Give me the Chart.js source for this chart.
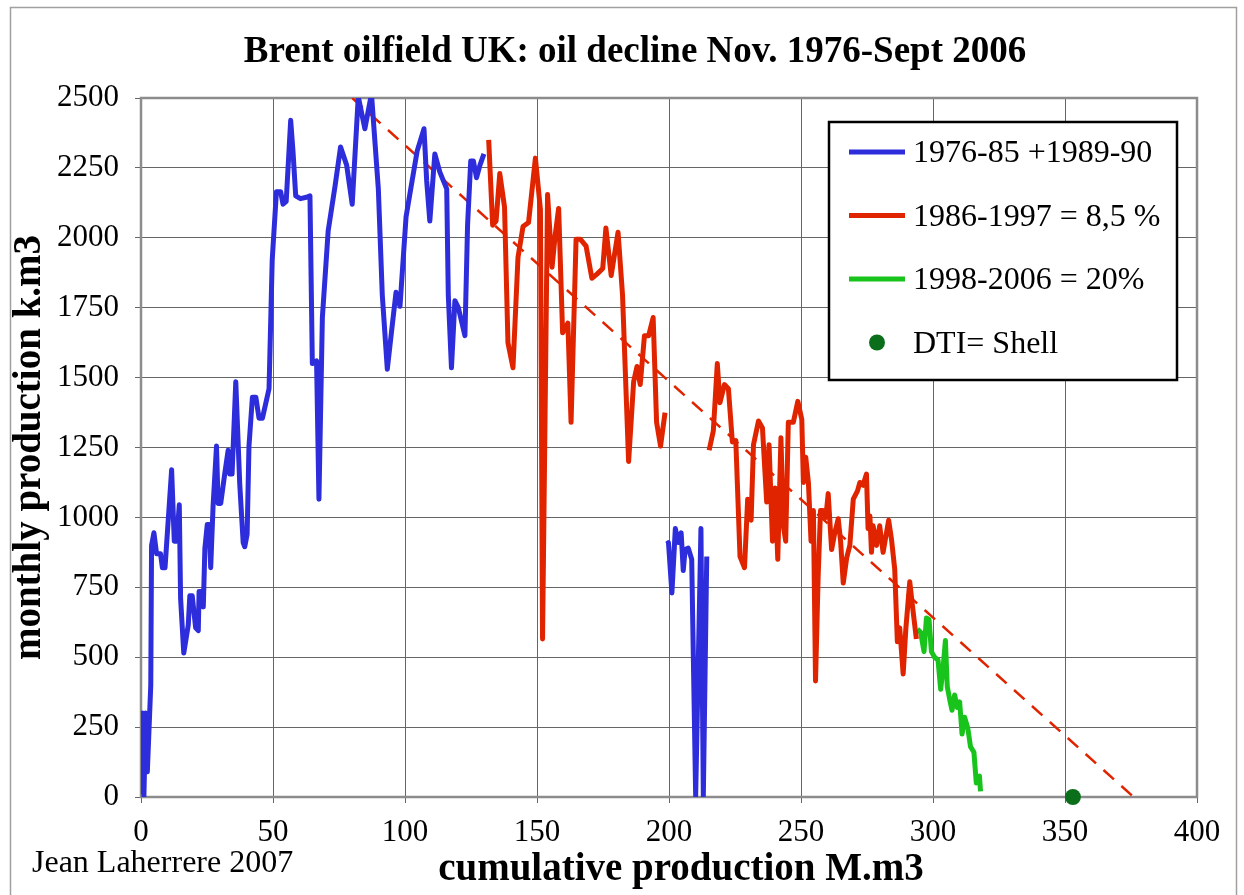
<!DOCTYPE html>
<html lang="en">
<head>
<meta charset="UTF-8" />
<title>Brent oilfield UK: oil decline</title>
<script src="https://cdn.jsdelivr.net/npm/chart.js@4"></script>
<style>
  html, body { margin: 0; padding: 0; background: #fff; }
  #wrap { width: 1244px; height: 895px; position: relative; }
</style>
</head>
<body>
<div id="wrap"><canvas id="brentChart"></canvas></div>
<script>
const serif = "'Liberation Serif', 'Times New Roman', serif";

// cumulative production (M.m3) vs monthly production (k.m3)
// blue: 1976-85 + 1989-90, null breaks the line between the two periods
const blueX = [0, 0.3, 0.6, 1.1, 1.8, 2.4, 3.7, 4.0, 4.9, 5.9, 7.4, 8.1, 9.1, 10.6, 11.6, 12.6, 13.5, 14.5, 15.0, 16.2,
  17.9, 18.5, 19.4, 20.7, 21.7, 22.0, 22.9, 23.6, 24.2, 25.1, 25.8, 26.4, 27.3, 28.6, 29.2, 30.2, 31.7, 33.0, 33.6, 34.5,
  35.9, 37.4, 38.7, 39.3, 40.2, 40.9, 42.2, 43.5, 44.7, 46.0, 48.5, 49.7, 51.3, 52.9, 53.8, 55.0, 56.7, 57.6, 58.6, 60.4,
  62.7, 64.0, 64.9, 66.5, 67.4, 68.7, 70.9, 73.5, 75.6, 77.9, 80.0, 82.3, 84.8, 87.3, 89.9, 91.4, 93.3, 94.9, 96.6, 98.1,
  100.4, 101.9, 104.6, 107.2, 108.2, 109.4, 111.3, 113.2, 115.8, 116.4, 117.6, 118.9, 120.2, 122.7, 123.7, 124.9, 125.9, 127.1, 128.4, 129.9,
  165,
  199.2, 199.8, 201.1, 202.4, 203.5, 204.6, 205.4, 206.1, 207.3, 208.6, 210.1, 212.1, 213.0, 214.3];
const blueY = [20, 200, 300, 0, 300, 90, 400, 900, 945, 870, 870, 820, 820, 1030, 1170, 915, 915, 1045, 710, 515,
  615, 720, 720, 605, 595, 735, 735, 680, 890, 975, 975, 820, 1040, 1255, 1050, 1050, 1155, 1240, 1155, 1155,
  1485, 1120, 910, 895, 940, 1255, 1430, 1430, 1355, 1355, 1460, 1920, 2165, 2165, 2120, 2130, 2420, 2305, 2150, 2140,
  2145, 2150, 1550, 1560, 1065, 1715, 2025, 2185, 2325, 2260, 2120, 2505, 2390, 2515, 2175, 1795, 1530, 1665, 1805, 1755,
  2075, 2160, 2310, 2390, 2205, 2060, 2300, 2235, 2175, 1795, 1535, 1775, 1750, 1650, 2045, 2275, 2275, 2215, 2260, 2300,
  null,
  905, 910, 730, 960, 910, 945, 810, 885, 890, 850, 5, 960, 5, 860];

// red: 1986-1997
const redX = [131.7, 133.2, 134.5, 135.9, 137.7, 139.0, 140.9, 142.8, 144.7, 146.8, 149.4, 151.3, 152.1, 154.0, 155.7, 156.9,
  158.2, 159.7, 161.7, 162.9, 164.8, 166.4, 168.6, 170.8, 172.7, 174.9, 176.1, 178.1, 180.7, 182.4, 184.7, 186.6, 187.9,
  189.1, 190.7, 192.3, 194.0, 195.3, 196.8, 198.5,
  207,
  215.2, 216.8, 218.3, 219.3, 221.0, 222.5, 224.0, 225.3, 226.9, 228.6, 229.8, 231.1, 232.0, 233.9, 235.4, 237.0, 237.9,
  239.2, 240.2, 241.2, 242.4, 243.3, 244.2, 245.2, 247.1, 248.8, 250.3, 250.9, 251.8, 252.8, 253.8, 254.7, 255.5, 256.5,
  257.4, 258.4, 259.4, 260.3, 261.6, 262.8, 264.1, 265.0, 266.0, 267.3, 268.5, 269.8, 271.4, 272.3, 273.5, 274.8, 275.4,
  276.1, 276.7, 277.3, 278.6, 279.8, 281.1, 283.2, 284.3, 285.5, 286.5, 287.4, 288.7, 289.7, 291.2, 292.2, 293.7];
const redY = [2350, 2045, 2060, 2230, 2110, 1625, 1535, 1930, 2040, 2055, 2285, 2100, 565, 2155, 1895, 2010,
  2105, 1660, 1695, 1340, 1995, 1995, 1970, 1855, 1870, 1890, 2035, 1865, 2020, 1795, 1200, 1485, 1540,
  1475, 1650, 1650, 1715, 1340, 1255, 1375,
  null,
  1240, 1310, 1550, 1410, 1475, 1460, 1270, 1275, 860, 820, 1065, 990, 1260, 1345, 1320, 1055, 1260,
  915, 1105, 850, 1285, 970, 915, 1340, 1340, 1415, 1350, 1125, 1215, 1125, 915, 1025, 415, 790,
  1025, 1025, 1000, 1085, 885, 945, 995, 915, 765, 855, 900, 1065, 1095, 1125, 1115, 1155, 960,
  1005, 875, 970, 900, 970, 875, 990, 920, 815, 555, 605, 440, 600, 770, 685, 565];

// green: 1998-2006
const greenX = [294.1, 295.3, 296.6, 297.5, 298.5, 299.4, 300.6, 301.9, 302.9, 303.8, 304.7, 305.4, 306.3, 307.2, 308.2,
  309.2, 310.1, 311.0, 312.0, 313.2, 314.2, 315.5, 316.4, 317.6, 318.0];
const greenY = [600, 590, 520, 640, 635, 520, 500, 490, 385, 460, 560, 395, 350, 310, 365,
  320, 340, 225, 285, 245, 180, 160, 50, 75, 20];

// 8.5 % decline trend line
const trendX = [80, 376];
const trendY = [2500, 0];

// DTI = Shell ultimate
const dtiX = [353];
const dtiY = [0];

const xTicks = [0, 50, 100, 150, 200, 250, 300, 350, 400];
const yTicks = [0, 250, 500, 750, 1000, 1250, 1500, 1750, 2000, 2250, 2500];

const toPoints = (xs, ys) => xs.map((x, i) => ({ x: x, y: ys[i] }));

// white page, outer frame and plot border
const frame = {
  id: 'frame',
  beforeDraw(chart) {
    const ctx = chart.ctx;
    ctx.save();
    ctx.fillStyle = '#fff';
    ctx.fillRect(0, 0, chart.width, chart.height);
    ctx.strokeStyle = '#a0a0a0';
    ctx.lineWidth = 1.5;
    ctx.strokeRect(10.5, 7.5, 1226, 900);
    ctx.restore();
  },
  beforeDatasetsDraw(chart) {
    const { ctx, chartArea: a } = chart;
    ctx.save();
    ctx.strokeStyle = '#8c8c8c';
    ctx.lineWidth = 2.5;
    ctx.strokeRect(a.left, a.top, a.right - a.left, a.bottom - a.top);
    ctx.restore();
  }
};

// title, x axis title, credit and the boxed legend
const texts = {
  id: 'texts',
  afterDraw(chart) {
    const ctx = chart.ctx;
    ctx.save();
    ctx.fillStyle = '#000';
    ctx.textBaseline = 'alphabetic';
    ctx.textAlign = 'center';
    ctx.font = 'bold 37px ' + serif;
    ctx.fillText('Brent oilfield UK: oil decline Nov. 1976-Sept 2006', 635, 62);
    ctx.font = 'bold 39px ' + serif;
    ctx.fillText('cumulative production M.m3', 681, 880);
    ctx.textAlign = 'left';
    ctx.font = '32px ' + serif;
    ctx.fillText('Jean Laherrere 2007', 32, 872);

    // legend box
    ctx.fillStyle = '#fff';
    ctx.fillRect(829, 122, 348, 258);
    ctx.strokeStyle = '#000';
    ctx.lineWidth = 2.5;
    ctx.strokeRect(829, 122, 348, 258);

    const items = chart.data.datasets.filter(d => d.label);
    items.forEach((d, i) => {
      const y = 152 + i * 63.5;
      if (d.showLine === false) {
        ctx.fillStyle = d.backgroundColor;
        ctx.beginPath();
        ctx.arc(877, y, 8, 0, Math.PI * 2);
        ctx.fill();
      } else {
        ctx.strokeStyle = d.borderColor;
        ctx.lineWidth = 5;
        ctx.beginPath();
        ctx.moveTo(849, y);
        ctx.lineTo(905, y);
        ctx.stroke();
      }
      ctx.fillStyle = '#000';
      ctx.font = '32px ' + serif;
      ctx.fillText(d.label, 913, y + 10);
    });
    ctx.restore();
  }
};

const lineStyle = {
  type: 'line',
  pointRadius: 0,
  borderWidth: 5,
  tension: 0,
  spanGaps: false,
  fill: false,
  borderJoinStyle: 'round'
};

new Chart(document.getElementById('brentChart'), {
  type: 'line',
  data: {
    datasets: [
      Object.assign({}, lineStyle, { label: '1976-85 +1989-90', data: toPoints(blueX, blueY), borderColor: '#2d2ddc' }),
      Object.assign({}, lineStyle, { label: '1986-1997 = 8,5 %', data: toPoints(redX, redY), borderColor: '#e02400' }),
      Object.assign({}, lineStyle, { label: '1998-2006 = 20%', data: toPoints(greenX, greenY), borderColor: '#18c31c' }),
      {
        type: 'line', label: 'DTI= Shell', data: toPoints(dtiX, dtiY), showLine: false,
        pointRadius: 8, pointHoverRadius: 8, backgroundColor: '#0a6e1a', borderColor: '#0a6e1a',
        pointBorderWidth: 0, clip: false
      },
      {
        type: 'line', label: '', data: toPoints(trendX, trendY), borderColor: '#e02400',
        borderWidth: 2.5, borderDash: [14, 10], pointRadius: 0, tension: 0, fill: false
      }
    ]
  },
  options: {
    responsive: true,
    maintainAspectRatio: false,
    animation: false,
    layout: { padding: { left: 0, right: 47, top: 98, bottom: 0 } },
    plugins: {
      legend: { display: false },
      title: { display: false },
      tooltip: { enabled: false }
    },
    scales: {
      x: {
        type: 'linear',
        min: 0,
        max: 400,
        afterBuildTicks: s => { s.ticks = xTicks.map(v => ({ value: v })); },
        afterFit: s => { s.height = 98; },
        ticks: { color: '#000', padding: 11, font: { family: serif, size: 31 }, callback: v => String(v) },
        grid: { color: '#666', lineWidth: 1, tickLength: 6 },
        border: { display: false }
      },
      y: {
        type: 'linear',
        min: 0,
        max: 2500,
        afterBuildTicks: s => { s.ticks = yTicks.map(v => ({ value: v })); },
        afterFit: s => { s.width = 141; },
        ticks: { color: '#000', padding: 16, font: { family: serif, size: 31 }, callback: v => String(v) },
        grid: { color: '#666', lineWidth: 1, tickLength: 6 },
        border: { display: false },
        title: {
          display: true, text: 'monthly production k.m3', color: '#000',
          font: { family: serif, size: 39, weight: 'bold' }, padding: { top: 7, bottom: 0 }
        }
      }
    }
  },
  plugins: [frame, texts]
});
</script>
</body>
</html>
